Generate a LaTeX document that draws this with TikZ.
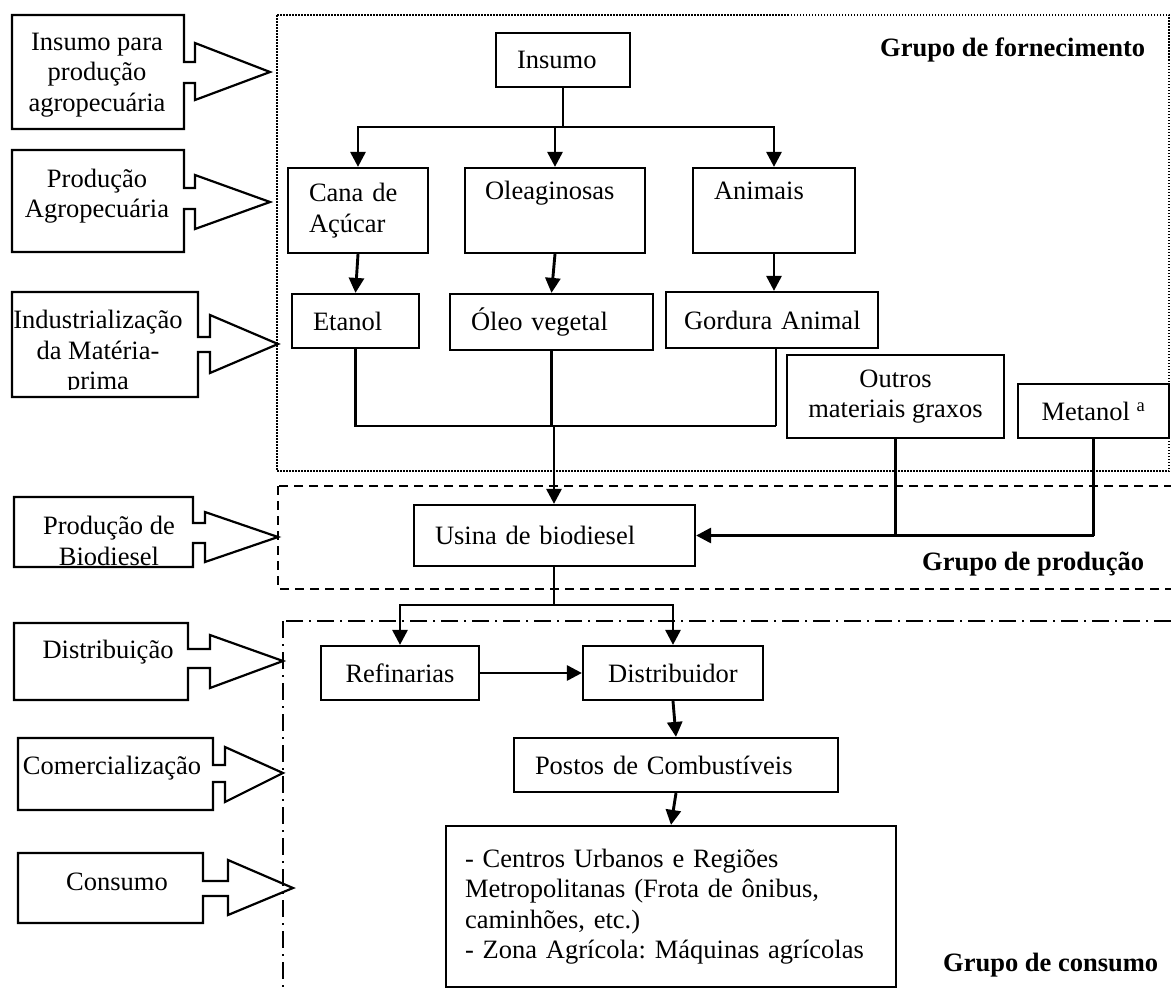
\documentclass[tikz,border=0pt]{standalone}
\usepackage{fontspec}
\setmainfont{Liberation Serif}
\usetikzlibrary{arrows.meta}
\newcommand\dfont{\fontsize{26.5}{30.5}\selectfont\frenchspacing}
\begin{document}
\begin{tikzpicture}[x=1pt,y=-1pt,
  every node/.style={font=\dfont},
  box/.style={draw, line width=2.2pt, inner ysep=0pt},
  lbox/.style={box, align=left},
  cbox/.style={box, align=center, inner xsep=0pt},
  ctext/.style={align=center, inner sep=0pt},
  grp/.style={font=\dfont\bfseries, inner sep=0pt, anchor=west},
  callout/.style={draw, line width=2.2pt, line join=miter},
  conn/.style={line width=2.9pt},
  arr/.style={conn, -{Triangle[length=15pt,width=15pt]}},
  dotfr/.style={line width=1.5pt, dash pattern=on 1.5pt off 1.5pt},
  dashfr/.style={line width=1.8pt, dash pattern=on 9pt off 6pt},
  ddfr/.style={line width=1.8pt, dash pattern=on 17pt off 6pt on 2pt off 6pt}]
\useasboundingbox (0,0) rectangle (1171,989);

% group frames
\draw[dotfr] (277,15) rectangle (1169,471);
\draw[dashfr] (278,486) rectangle (1185,589);
\draw[ddfr] (283,621) rectangle (1185,1000);

% left callouts
\draw[callout] (12,15) -- (184,15) -- (184,62) -- (195,62) -- (195,43) -- (270,72) -- (195,100) -- (195,83) -- (184,83) -- (184,129) -- (12,129) -- cycle;
\draw[callout] (12,150) -- (184,150) -- (184,188) -- (195,188) -- (195,175) -- (270,202) -- (195,229) -- (195,209) -- (184,209) -- (184,252) -- (12,252) -- cycle;
\draw[callout] (12,292) -- (198,292) -- (198,337) -- (210,337) -- (210,315) -- (278,344) -- (210,373) -- (210,352) -- (198,352) -- (198,397) -- (12,397) -- cycle;
\draw[callout] (14,497) -- (193,497) -- (193,523) -- (205,523) -- (205,512) -- (278,537) -- (205,562) -- (205,543) -- (193,543) -- (193,567) -- (14,567) -- cycle;
\draw[callout] (14,623) -- (188,623) -- (188,649) -- (210,649) -- (210,635) -- (283,661) -- (210,688) -- (210,668) -- (188,668) -- (188,700) -- (14,700) -- cycle;
\draw[callout] (18,738) -- (213,738) -- (213,765) -- (225,765) -- (225,747) -- (283,773) -- (225,802) -- (225,782) -- (213,782) -- (213,810) -- (18,810) -- cycle;
\draw[callout] (18,853) -- (203,853) -- (203,881) -- (228,881) -- (228,860) -- (293,888) -- (228,915) -- (228,896) -- (203,896) -- (203,923) -- (18,923) -- cycle;

\node[ctext] (c1) at (97,75) {Insumo para\\produção\\agropecuária};
\node[ctext] (c2) at (97,196) {Produção\\Agropecuária};
\begin{scope}
\clip (12,292) rectangle (198,389);
\node[ctext] (c3) at (98,353) {Industrialização\\da Matéria-\\prima};
\end{scope}
\node[ctext] (c4) at (109,541) {Produção de\\Biodiesel};
\node[ctext] (c5) at (108,652) {Distribuição};
\node[ctext] (c6) at (112,768) {Comercialização};
\node[ctext] (c7) at (117,882) {Consumo};

% group labels
\node[grp] (gf) at (880,50) {Grupo de fornecimento};
\node[grp] (gp) at (922,564) {Grupo de produção};
\node[grp] (gc) at (943,965) {Grupo de consumo};

% boxes
\node[lbox, minimum width=134pt, minimum height=54pt, text width=92pt, inner xsep=21pt] (ins) at (563,60) {Insumo};
\node[lbox, minimum width=140pt, minimum height=85pt, text width=98pt, inner xsep=21pt] (cana) at (358,210.5) {Cana de\\Açúcar};
\node[lbox, minimum width=180pt, minimum height=85pt, text width=140pt, inner xsep=20pt] (oleag) at (555,210.5) {Oleaginosas\\\strut};
\node[lbox, minimum width=162pt, minimum height=85pt, text width=120pt, inner xsep=21pt] (anim) at (774,210.5) {Animais\\\strut};
\node[lbox, minimum width=127pt, minimum height=54pt, text width=85pt, inner xsep=21pt] (etan) at (355.5,321) {Etanol};
\node[lbox, minimum width=203pt, minimum height=56pt, text width=161pt, inner xsep=21pt] (oleo) at (551.5,322) {Óleo vegetal};
\node[lbox, minimum width=212pt, minimum height=56pt, text width=176pt, inner xsep=18pt] (gord) at (772,320) {\mbox{Gordura Animal}};
\node[cbox, minimum width=217pt, minimum height=83pt] (outros) at (895.5,396.5) {Outros\\materiais graxos};
\node[cbox, minimum width=151pt, minimum height=54pt] (meta) at (1093.5,411) {Metanol \textsuperscript{a}};
\node[lbox, minimum width=281pt, minimum height=61pt, text width=239pt, inner xsep=21pt] (usina) at (554.5,535.5) {Usina de biodiesel};
\node[cbox, minimum width=158pt, minimum height=54pt] (refi) at (400,673) {Refinarias};
\node[cbox, minimum width=180pt, minimum height=54pt] (dist) at (673,673) {Distribuidor};
\node[lbox, minimum width=324pt, minimum height=54pt, text width=282pt, inner xsep=21pt] (postos) at (676,765) {Postos de Combustíveis};
\node[lbox, minimum width=450pt, minimum height=161pt, text width=412pt, inner xsep=19pt] (cons) at (671,906.5) {- Centros Urbanos e Regiões\\Metropolitanas (Frota de ônibus,\\caminhões, etc.)\\- Zona Agrícola: Máquinas agrícolas};

% connectors
\coordinate (ji) at (563,127);
\draw[conn] (ins.south) -- (ji);
\draw[arr] (ji) -| (cana);
\draw[arr] (ji) -| (oleag);
\draw[arr] (ji) -| (anim);

\draw[arr] (cana.south) -- (etan.north);
\draw[arr] (oleag.south) -- (oleo.north);
\draw[arr] (anim.south) -- (anim.south |- gord.north);

\coordinate (jg) at (776,426);
\coordinate (jo) at (554,426);
\draw[conn] (gord.south -| jg) -- (jg);
\draw[conn] (etan.south) |- (jg);
\draw[conn] (oleo.south) -- (oleo.south |- jg);
\draw[arr] (jo) -- (usina.north -| jo);

\coordinate (jm) at (meta.south |- usina.east);
\draw[conn] (meta.south) -- (jm);
\draw[arr] (jm) -- (usina.east);
\draw[conn] (outros.south) -- (outros.south |- usina.east);

\coordinate (ju) at (554,605);
\draw[conn] (usina.south -| ju) -- (ju);
\draw[arr] (ju) -| (refi);
\draw[arr] (ju) -| (dist);
\draw[arr] (refi.east) -- (dist.west);
\draw[arr] (dist.south) -- (postos.north);
\draw[arr] (postos.south) -- (cons.north);
\end{tikzpicture}
\end{document}
